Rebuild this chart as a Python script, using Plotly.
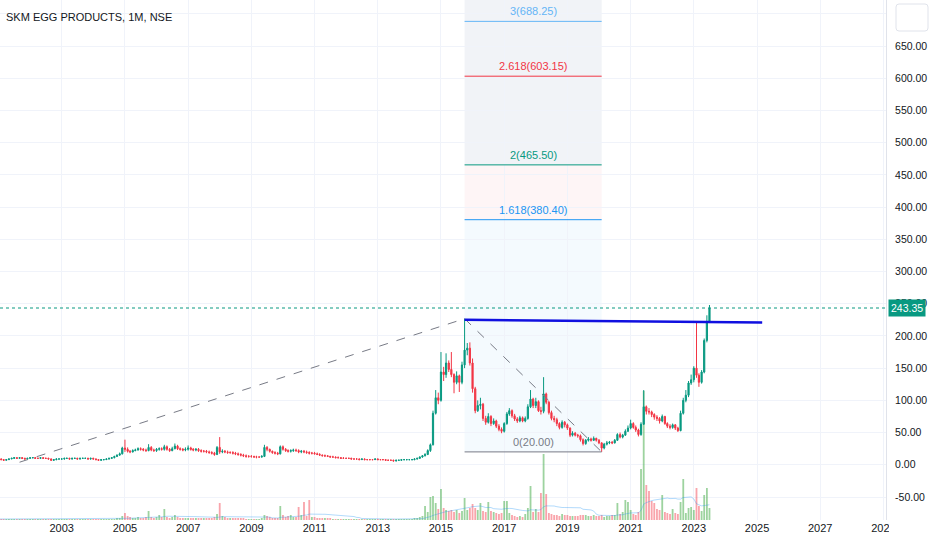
import pandas as pd
import plotly.graph_objects as go

TITLE = "SKM EGG PRODUCTS, 1M, NSE"
FIRST_MONTH = "2001-01-01"
FIRST_OPEN = 9
LAST_PRICE = 243.35

# monthly closes, 2001-01 .. 2023-07
closes = [
    9, 8, 7, 8, 9, 10, 11, 10, 11, 10, 9, 10,            # 2001
    11, 11, 10, 10, 11, 10, 10, 9, 7, 8, 9, 9,           # 2002
    9, 10, 10, 9, 10, 10, 9, 10, 10, 10, 9, 10,          # 2003
    9, 8, 7, 8, 8, 9, 10, 11, 13, 15, 17, 26,            # 2004
    24, 21, 20, 22, 23, 25, 24, 23, 22, 27, 23, 22,      # 2005
    24, 25, 24, 28, 24, 22, 25, 29, 25, 24, 23, 24,      # 2006
    26, 24, 23, 24, 22, 21, 21, 20, 19, 18, 16, 27,      # 2007
    20, 21, 20, 19, 19, 18, 17, 16, 15, 14, 13, 13,      # 2008
    13, 12, 12, 12, 13, 27, 24, 21, 19, 18, 17, 28,      # 2009
    24, 22, 21, 22, 23, 22, 20, 21, 20, 19, 18, 18,      # 2010
    17, 16, 15, 14, 14, 13, 12, 12, 11, 11, 10, 10,      # 2011
    10, 10, 9, 9, 9, 8, 9, 8, 8, 8, 8, 9,                # 2012
    8, 8, 8, 7, 7, 7, 6, 7, 7, 8, 8, 8,                  # 2013
    8, 8, 9, 10, 12, 14, 16, 22, 31, 80, 104, 100,       # 2014
    144, 140, 158, 148, 140, 128, 138, 128, 155, 178, 181, 158,  # 2015
    118, 84, 92, 94, 72, 66, 75, 64, 68, 60, 55, 52,     # 2016
    64, 79, 84, 76, 71, 68, 73, 68, 72, 90, 102, 92,     # 2017
    98, 84, 83, 110, 97, 81, 72, 70, 64, 58, 66, 62,     # 2018
    57, 46, 49, 46, 45, 39, 33, 38, 40, 38, 41, 38,      # 2019
    34, 26, 32, 34, 35, 34, 38, 47, 43, 46, 52, 57,      # 2020
    64, 58, 54, 47, 63, 90, 83, 82, 78, 74, 72, 68,      # 2021
    75, 64, 60, 58, 62, 57, 53, 80, 100, 108, 127, 132,  # 2022
    150, 139, 128, 144, 193, 221, 243.35,                # 2023
]

highs = [
    10, 10, 9, 9, 10, 11, 12, 12, 12, 12, 11, 11,
    12, 12, 12, 11, 12, 12, 11, 11, 10, 9, 10, 10,
    10, 11, 11, 11, 11, 11, 11, 11, 11, 11, 11, 11,
    11, 10, 9, 9, 9, 10, 11, 12, 14, 16, 19, 28,
    39, 27, 23, 24, 25, 27, 27, 26, 25, 32, 29, 25,
    26, 27, 27, 31, 30, 26, 28, 33, 31, 27, 26, 27,
    30, 28, 26, 26, 26, 24, 23, 23, 22, 21, 20, 29,
    43, 24, 23, 22, 21, 21, 20, 19, 18, 17, 16, 15,
    15, 14, 14, 13, 15, 31, 29, 25, 22, 21, 20, 30,
    30, 26, 24, 24, 25, 25, 24, 23, 23, 22, 21, 20,
    20, 19, 18, 16, 16, 15, 14, 14, 13, 13, 12, 12,
    11, 11, 11, 10, 10, 10, 10, 10, 9, 9, 9, 10,
    10, 9, 9, 9, 8, 8, 8, 8, 8, 9, 9, 9,
    9, 9, 10, 11, 13, 15, 18, 24, 33, 84, 116, 112,
    175, 152, 173, 162, 175, 142, 145, 140, 160, 226.75, 189, 190,
    165, 121, 100, 104, 96, 76, 80, 77, 72, 70, 63, 58,
    66, 82, 88, 86, 79, 74, 76, 75, 75, 94, 116, 104,
    104, 100, 90, 136, 112, 99, 84, 76, 73, 66, 69, 68,
    64, 58, 52, 51, 48, 47, 41, 40, 43, 42, 44, 42,
    40, 35, 34, 37, 37, 37, 40, 49, 50, 48, 55, 61,
    70, 66, 61, 56, 66, 116, 92, 88, 84, 80, 77, 74,
    78, 76, 66, 63, 64, 63, 59, 84, 104, 116, 130, 140,
    153, 221, 142, 147, 196, 232, 248,
]

lows = [
    8, 7, 6, 7, 8, 9, 9, 9, 10, 9, 8, 9,
    9, 10, 9, 9, 9, 9, 9, 8, 6, 6, 7, 8,
    8, 8, 9, 8, 8, 9, 8, 8, 9, 9, 8, 8,
    8, 7, 6, 6, 7, 8, 8, 9, 10, 12, 14, 16,
    20, 19, 18, 19, 21, 22, 22, 21, 20, 21, 21, 20,
    20, 22, 22, 22, 22, 20, 21, 24, 23, 22, 21, 21,
    22, 22, 21, 21, 20, 19, 19, 18, 17, 16, 14, 15,
    17, 18, 18, 17, 17, 16, 15, 14, 13, 12, 11, 11,
    11, 11, 10, 11, 11, 12, 21, 19, 17, 16, 15, 16,
    22, 20, 19, 19, 20, 20, 18, 18, 18, 17, 16, 16,
    16, 15, 14, 13, 12, 12, 11, 11, 10, 10, 9, 9,
    9, 9, 8, 8, 8, 7, 8, 7, 7, 7, 7, 8,
    7, 7, 7, 6, 6, 6, 5, 5, 6, 6, 7, 7,
    7, 7, 7, 8, 9, 11, 13, 15, 20, 30, 78, 94,
    98, 130, 135, 144, 136, 111, 125, 113, 125, 150, 170, 154,
    112, 80, 82, 86, 68, 62, 64, 60, 62, 57, 52, 49,
    50, 62, 76, 73, 68, 65, 66, 66, 66, 70, 88, 88,
    88, 82, 78, 80, 94, 78, 69, 66, 60, 55, 56, 58,
    54, 43, 44, 44, 42, 36, 30, 31, 36, 36, 37, 36,
    32, 20, 24, 30, 32, 32, 33, 37, 41, 41, 45, 51,
    55, 56, 51, 44, 45, 62, 78, 78, 74, 70, 68, 64,
    66, 62, 57, 55, 56, 54, 51, 52, 78, 97, 105, 124,
    128, 135, 121, 126, 142, 190, 220,
]

# monthly volume (relative units)
volumes = [
    1, 1, 1, 1, 1, 1, 1, 1, 1, 1, 1, 1,
    1, 1, 1, 1, 1, 1, 1, 1, 1, 1, 1, 1,
    1, 1, 1, 1, 1, 1, 1, 1, 1, 1, 1, 1,
    1, 1, 1, 1, 1, 1, 1, 1, 1, 2, 2, 4,
    7, 4, 3, 2, 2, 3, 2, 2, 3, 9, 3, 2,
    3, 5, 3, 11, 3, 2, 3, 5, 3, 2, 2, 2,
    2, 2, 2, 2, 2, 2, 2, 2, 2, 2, 3, 6,
    17, 4, 3, 2, 2, 2, 2, 2, 2, 2, 1, 1,
    1, 1, 1, 1, 2, 5, 4, 3, 2, 2, 2, 14,
    5, 3, 4, 5, 3, 3, 13, 5, 18, 4, 20, 3,
    3, 2, 2, 2, 2, 2, 2, 1, 1, 1, 1, 1,
    1, 1, 1, 1, 1, 1, 1, 1, 1, 1, 1, 1,
    1, 1, 1, 1, 1, 1, 1, 1, 1, 1, 1, 1,
    1, 1, 2, 2, 3, 4, 14, 8, 23, 24, 17, 11,
    31, 12, 10, 9, 10, 8, 10, 7, 9, 22, 10, 12,
    16, 12, 10, 17, 9, 8, 18, 9, 8, 7, 6, 7,
    19, 19, 7, 5, 4, 3, 4, 3, 6, 12, 34, 8,
    11, 8, 27, 66, 26, 7, 6, 5, 5, 4, 6, 5,
    5, 4, 4, 4, 4, 5, 5, 5, 4, 4, 5, 4,
    4, 5, 3, 4, 4, 5, 5, 17, 6, 8, 20, 18,
    10, 6, 5, 8, 51, 129, 35, 29, 19, 17, 11, 10,
    25, 8, 7, 6, 11, 7, 6, 18, 41, 7, 12, 13,
    10, 32, 14, 9, 25, 32, 12,
]

# Trend-based Fib extension anchors (date, price)
FIB_A = ("2001-09-01", 4.0)
FIB_B = ("2015-10-01", 226.75)
FIB_C = ("2020-02-01", 20.0)
fib_levels = [0, 1.618, 2, 2.618, 3]
fib_level_colors = ["#787b86", "#2196f3", "#089981", "#f23645", "#64b5f6"]
fib_zone_edges = [0, 1.618, 2, 2.618, 3, 3.618]
fib_zone_colors = ["rgba(33,150,243,0.05)", "rgba(242,54,69,0.05)",
                   "rgba(100,120,170,0.09)", "rgba(100,120,170,0.09)",
                   "rgba(100,120,170,0.09)"]

# hand-drawn resistance line (date, price)
TREND_START = ("2015-10-01", 225.0)
TREND_END = ("2025-03-01", 220.8)

year_ticks = list(range(2003, 2030, 2))
price_ticks = list(range(-50, 701, 50))

# ---------------------------------------------------------------
n = len(closes)
assert len(highs) == n and len(lows) == n and len(volumes) == n
dates = pd.date_range(FIRST_MONTH, periods=n, freq="MS")
opens = [FIRST_OPEN] + closes[:-1]
highs = [max(h, o, c) for h, o, c in zip(highs, opens, closes)]
lows = [min(l, o, c) for l, o, c in zip(lows, opens, closes)]

GREEN = "#089981"
RED = "#f23645"
FONT = "Liberation Sans, Arial, sans-serif"
TXT = "#131722"

W, H = 932, 550
ML, MR, MT, MB = 0, 46, 0, 30
PW, PH = W - ML - MR, H - MT - MB

def px_x(p):
    return (p - ML) / PW

def px_y(p):
    return (H - MB - p) / PH

vol_colors = ["rgba(76,175,80,0.55)" if c >= o else "rgba(242,54,69,0.45)"
              for o, c in zip(opens, closes)]
vol_ma = pd.Series(volumes, dtype=float).rolling(20, min_periods=1).mean()

fig = go.Figure()
fig.add_trace(go.Bar(x=dates, y=volumes, marker=dict(color=vol_colors, line=dict(width=0)),
                     yaxis="y", showlegend=False, hoverinfo="skip"))
fig.add_trace(go.Scatter(x=dates, y=vol_ma, mode="lines",
                         line=dict(color="rgba(33,150,243,0.35)", width=1),
                         yaxis="y", showlegend=False, hoverinfo="skip"))
fig.add_trace(go.Candlestick(
    x=dates, open=opens, high=highs, low=lows, close=closes, yaxis="y2",
    increasing=dict(line=dict(color=GREEN, width=1), fillcolor=GREEN),
    decreasing=dict(line=dict(color=RED, width=1), fillcolor=RED),
    whiskerwidth=0, showlegend=False))

shapes = []
annotations = []

# fib extension
rng = FIB_B[1] - FIB_A[1]
def fib_price(r):
    return round((FIB_C[1] + r * rng) / 0.05) * 0.05

for i in range(len(fib_zone_colors)):
    shapes.append(dict(type="rect", xref="x", yref="y2", layer="below",
                       x0=FIB_B[0], x1=FIB_C[0],
                       y0=fib_price(fib_zone_edges[i]), y1=fib_price(fib_zone_edges[i + 1]),
                       fillcolor=fib_zone_colors[i], line=dict(width=0)))
mid_date = pd.Timestamp(FIB_B[0]) + (pd.Timestamp(FIB_C[0]) - pd.Timestamp(FIB_B[0])) / 2
for r, col in zip(fib_levels, fib_level_colors):
    p = fib_price(r)
    shapes.append(dict(type="line", xref="x", yref="y2", x0=FIB_B[0], x1=FIB_C[0],
                       y0=p, y1=p, line=dict(color=col, width=1)))
    annotations.append(dict(x=mid_date, y=p, xref="x", yref="y2", showarrow=False,
                            text=f"{r:g}({p:.2f})", yshift=10,
                            font=dict(family=FONT, size=11, color=col)))

# dashed A-B-C path
for (d0, p0), (d1, p1) in [(FIB_A, FIB_B), (FIB_B, FIB_C)]:
    shapes.append(dict(type="line", xref="x", yref="y2", x0=d0, y0=p0, x1=d1, y1=p1,
                       line=dict(color="#787b86", width=1, dash="dash")))

# resistance line
shapes.append(dict(type="line", xref="x", yref="y2", x0=TREND_START[0], y0=TREND_START[1],
                   x1=TREND_END[0], y1=TREND_END[1], line=dict(color="#1010e0", width=2.5)))

# last price dotted line
shapes.append(dict(type="line", xref="paper", yref="y2", x0=0, x1=1,
                   y0=LAST_PRICE, y1=LAST_PRICE,
                   line=dict(color=GREEN, width=1, dash="dot")))

# top-right button box (rounded)
bx0, bx1, by0, by1, rr = 896, 928, 4, 31, 3
box_path = (f"M {px_x(bx0 + rr)} {px_y(by0)} L {px_x(bx1 - rr)} {px_y(by0)} "
            f"Q {px_x(bx1)} {px_y(by0)} {px_x(bx1)} {px_y(by0 + rr)} "
            f"L {px_x(bx1)} {px_y(by1 - rr)} Q {px_x(bx1)} {px_y(by1)} {px_x(bx1 - rr)} {px_y(by1)} "
            f"L {px_x(bx0 + rr)} {px_y(by1)} Q {px_x(bx0)} {px_y(by1)} {px_x(bx0)} {px_y(by1 - rr)} "
            f"L {px_x(bx0)} {px_y(by0 + rr)} Q {px_x(bx0)} {px_y(by0)} {px_x(bx0 + rr)} {px_y(by0)} Z")
shapes.append(dict(type="path", xref="paper", yref="paper", path=box_path,
                   fillcolor="white", line=dict(color="#e0e3eb", width=1), layer="above"))
# cover that clips the last year label under the price scale
shapes.append(dict(type="rect", xref="paper", yref="paper",
                   x0=px_x(889), x1=px_x(932), y0=px_y(550), y1=px_y(522),
                   fillcolor="white", line=dict(width=0), layer="above"))

annotations.append(dict(x=px_x(4), y=px_y(17), xref="paper", yref="paper", xanchor="left",
                        yanchor="middle", showarrow=False, text=TITLE,
                        font=dict(family=FONT, size=11, color=TXT)))
annotations.append(dict(x=1, y=LAST_PRICE, xref="paper", yref="y2", xanchor="left",
                        yanchor="middle", showarrow=False, text=f"{LAST_PRICE:.2f}",
                        bgcolor=GREEN, borderpad=2, xshift=2,
                        font=dict(family=FONT, size=10.5, color="white")))

fig.update_layout(
    width=W, height=H,
    margin=dict(l=ML, r=MR, t=MT, b=MB, autoexpand=False),
    paper_bgcolor="white", plot_bgcolor="white",
    bargap=0.25,
    font=dict(family=FONT, size=10.5, color=TXT),
    xaxis=dict(type="date", range=["2001-01-18", "2029-01-30"],
               tickvals=[f"{y}-01-01" for y in year_ticks], ticktext=[str(y) for y in year_ticks],
               showgrid=True, gridcolor="#f0f3fa", zeroline=False, ticks="",
               rangeslider=dict(visible=False), showline=False, automargin=False,
               tickfont=dict(size=11)),
    yaxis=dict(range=[0, PH], visible=False, showgrid=False, fixedrange=True, automargin=False),
    yaxis2=dict(overlaying="y", side="right", range=[-85.7, 721.4],
                tickvals=price_ticks,
                ticktext=["" if v == 700 else f"{v:.2f}" for v in price_ticks],
                showgrid=True, gridcolor="#f0f3fa", zeroline=False, ticks="",
                showline=True, linecolor="#e0e3eb", automargin=False,
                ticklabelstandoff=6),
    shapes=shapes, annotations=annotations,
    hovermode=False,
)

fig.write_html("out.html", config={"displayModeBar": False},
               post_script="document.body.style.margin='0px';")
